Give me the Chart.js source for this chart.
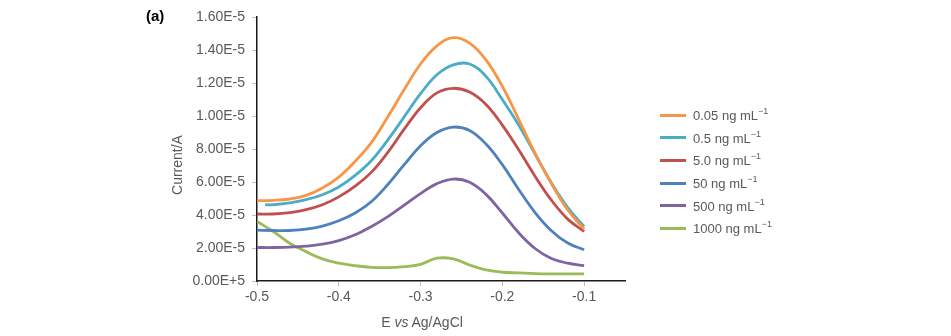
<!DOCTYPE html>
<html>
<head>
<meta charset="utf-8">
<script src="https://cdn.jsdelivr.net/npm/chart.js@4"></script>
<style>
  html, body { margin: 0; padding: 0; background: #fff; }
  #wrap { position: relative; width: 951px; height: 336px; }
  #panel { position: absolute; left: 146px; top: 7px; font: bold 15px "Liberation Sans", Arial, sans-serif; color: #000; }
  #legend { position: absolute; left: 660px; top: 104px; margin: 0; padding: 0; list-style: none;
            font: 13px "Liberation Sans", Arial, sans-serif; color: #595959; }
  #legend li { display: flex; align-items: center; height: 22.6px; white-space: nowrap; }
  #legend .sw { display: inline-block; width: 26px; height: 3px; margin-right: 7px; }
  #legend sup { font-size: 9px; position: relative; top: -1px; }
  .axt { position: absolute; font: 14px "Liberation Sans", Arial, sans-serif; color: #595959; white-space: nowrap;
         transform: translate(-50%, -50%); }
  #ytitle { transform: translate(-50%, -50%) rotate(-90deg); }
</style>
</head>
<body>
<div id="wrap">
  <canvas id="c" width="951" height="336"></canvas>
  <div id="panel">(a)</div>
  <div id="xtitle" class="axt" style="left:422px; top:322px;">E <i>vs</i> Ag/AgCl</div>
  <div id="ytitle" class="axt" style="left:177px; top:165px;">Current/A</div>
  <ul id="legend"></ul>
</div>
<script>
// ---- data (x = potential E vs Ag/AgCl in V; y in the units of the original axis) ----
const xs = [-0.50,-0.48,-0.46,-0.44,-0.42,-0.40,-0.38,-0.36,-0.34,-0.32,-0.30,-0.28,-0.26,-0.24,-0.22,-0.20,-0.18,-0.16,-0.14,-0.12,-0.10];
const xsCyan = [-0.49,-0.48,-0.46,-0.44,-0.42,-0.40,-0.38,-0.36,-0.34,-0.32,-0.30,-0.28,-0.26,-0.24,-0.22,-0.20,-0.18,-0.16,-0.14,-0.12,-0.10];
const seriesLabels = ['0.05 ng mL', '0.5 ng mL', '5.0 ng mL', '50 ng mL', '500 ng mL', '1000 ng mL'];
const s005  = [4.87,4.89,4.97,5.19,5.64,6.30,7.25,8.40,9.95,11.60,13.15,14.25,14.75,14.42,13.40,11.80,9.80,7.75,5.90,4.30,3.15];
const s05   = [4.62,4.62,4.73,4.93,5.23,5.70,6.40,7.30,8.55,9.95,11.35,12.50,13.10,13.15,12.40,11.00,9.45,7.70,5.95,4.45,3.30];
const s50a  = [4.06,4.06,4.14,4.32,4.62,5.10,5.75,6.60,7.80,9.20,10.50,11.40,11.68,11.45,10.70,9.45,7.95,6.35,4.90,3.75,3.00];
const s50   = [3.08,3.06,3.06,3.14,3.33,3.65,4.12,4.82,5.85,7.05,8.20,9.00,9.33,9.12,8.30,7.05,5.55,4.15,3.05,2.30,1.89];
const s500  = [2.03,2.03,2.05,2.11,2.23,2.45,2.80,3.30,3.90,4.60,5.30,5.90,6.18,5.98,5.25,4.12,2.92,1.97,1.36,1.08,0.93];
const s1000 = [3.61,3.00,2.29,1.78,1.34,1.08,0.93,0.83,0.81,0.87,1.01,1.38,1.34,0.97,0.67,0.53,0.49,0.45,0.43,0.43,0.43];
const colors = ['#F79646', '#4BACC6', '#C0504D', '#4F81BD', '#8064A2', '#9BBB59'];
const yTickValues = [0, 2, 4, 6, 8, 10, 12, 14, 16];
const yTickLabels = ['0.00E+5','2.00E-5','4.00E-5','6.00E-5','8.00E-5','1.00E-5','1.20E-5','1.40E-5','1.60E-5'];
const xTickValues = [-0.5, -0.4, -0.3, -0.2, -0.1];
const xTickLabels = ['-0.5', '-0.4', '-0.3', '-0.2', '-0.1'];

const seriesValues = [s005, s05, s50a, s50, s500, s1000];
const seriesX = [xs, xsCyan, xs, xs, xs, xs];

const datasets = seriesValues.map((vals, i) => ({
  label: seriesLabels[i],
  data: vals.map((v, k) => ({ x: seriesX[i][k], y: v })),
  borderColor: colors[i],
  backgroundColor: colors[i],
  borderWidth: 2.8,
  pointRadius: 0,
  tension: 0.4,
  fill: false
}));

const FONT = '"Liberation Sans", Arial, sans-serif';

const htmlLegend = {
  id: 'htmlLegend',
  afterUpdate(chart) {
    const ul = document.getElementById('legend');
    ul.innerHTML = '';
    const items = chart.options.plugins.legend.labels.generateLabels(chart);
    items.forEach(item => {
      const li = document.createElement('li');
      const sw = document.createElement('span');
      sw.className = 'sw';
      sw.style.background = item.strokeStyle;
      li.appendChild(sw);
      const t = document.createElement('span');
      t.textContent = item.text;
      const sup = document.createElement('sup');
      sup.textContent = '\u22121';
      t.appendChild(sup);
      li.appendChild(t);
      ul.appendChild(li);
    });
  }
};

new Chart(document.getElementById('c'), {
  type: 'line',
  data: { datasets },
  plugins: [htmlLegend],
  options: {
    responsive: false,
    animation: false,
    layout: { padding: { left: 166, right: 326, top: 17, bottom: 0 } },
    plugins: {
      legend: { display: false },
      tooltip: { enabled: false }
    },
    scales: {
      x: {
        type: 'linear',
        min: -0.5,
        max: -0.05,
        afterBuildTicks(scale) { scale.ticks = xTickValues.map(v => ({ value: v })); },
        afterFit(scale) { scale.height = 55; },
        ticks: {
          autoSkip: false,
          maxRotation: 0,
          padding: 3,
          color: '#595959',
          font: { family: FONT, size: 14 },
          callback: (v, i) => xTickLabels[i]
        },
        grid: { display: true, drawOnChartArea: false, drawTicks: true, tickLength: 5, color: '#BFBFBF' },
        border: { display: true, color: '#1a1a1a', width: 1.5 },
        title: { display: false, text: 'E vs Ag/AgCl' }
      },
      y: {
        type: 'linear',
        min: 0,
        max: 16,
        afterBuildTicks(scale) { scale.ticks = yTickValues.map(v => ({ value: v })); },
        afterFit(scale) { scale.width = 91; },
        ticks: {
          autoSkip: false,
          padding: 7,
          color: '#595959',
          font: { family: FONT, size: 14 },
          callback: (v, i) => yTickLabels[i]
        },
        grid: { display: true, drawOnChartArea: false, drawTicks: true, tickLength: 5, color: '#BFBFBF' },
        border: { display: true, color: '#1a1a1a', width: 1.5 },
        title: { display: false, text: 'Current/A' }
      }
    }
  }
});
</script>
</body>
</html>
